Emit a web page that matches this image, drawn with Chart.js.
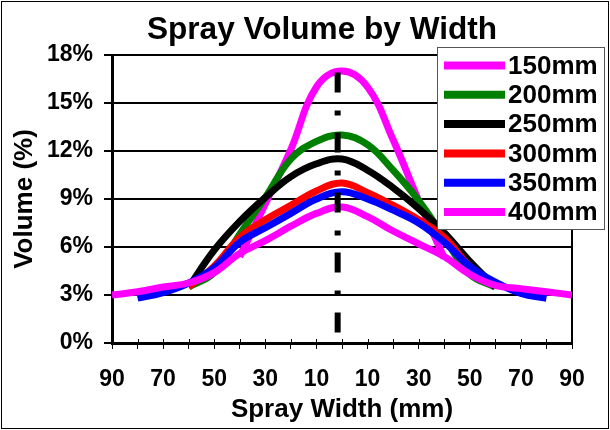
<!DOCTYPE html>
<html>
<head>
<meta charset="utf-8">
<title>Spray Volume by Width</title>
<script src="https://cdn.jsdelivr.net/npm/chart.js@4"></script>
<style>
  html, body { margin: 0; padding: 0; background: #fff; }
</style>
</head>
<body>
<canvas id="myChart" width="610" height="430"></canvas>
<script>
const FONT = '"Liberation Sans", Arial, sans-serif';

// spray width across the pattern, mm (left side negative)
const widths = [-90, -80, -70, -60, -50, -40, -30, -20, -10, 0, 10, 20, 30, 40, 50, 60, 70, 80, 90];
const widthLabels = ['90', '', '70', '', '50', '', '30', '', '10', '', '10', '', '30', '', '50', '', '70', '', '90'];

const seriesNames = ['150mm', '200mm', '250mm', '300mm', '350mm', '400mm'];

// volume in %, one value per width (null = nozzle doesn't reach)
const vol150 = [null, null, null, null, null, 5.4, 8.7, 12.1, 16.0, 17.0, 16.0, 12.7, 8.9, 5.3, null, null, null, null, null];
const vol200 = [null, null, null, 3.5, 4.4, 6.8, 9.1, 11.5, 12.6, 13.0, 12.4, 10.8, 8.9, 6.6, 4.3, 3.5, null, null, null];
const vol250 = [null, null, null, 3.5, 5.8, 7.6, 9.1, 10.4, 11.2, 11.5, 10.8, 9.7, 8.4, 6.9, 5.1, 3.5, null, null, null];
const vol300 = [null, null, null, 3.5, 4.8, 6.6, 7.7, 8.6, 9.5, 10.0, 9.4, 8.6, 7.7, 6.6, 4.8, 3.6, null, null, null];
const vol350 = [null, 2.8, 3.15, 3.75, 4.7, 6.3, 7.2, 8.1, 9.0, 9.45, 9.0, 8.3, 7.5, 6.3, 4.8, 3.8, 3.1, 2.8, null];
const vol400 = [3.0, 3.2, 3.5, 3.75, 4.4, 5.6, 6.4, 7.3, 8.1, 8.5, 7.9, 7.0, 6.2, 5.4, 4.3, 3.6, 3.4, 3.2, 3.0];

// dash-dot centre marker
const centreX = -1.7;
const centreY = [16.9, 0.5];

const volumes = [vol150, vol200, vol250, vol300, vol350, vol400];
const colors = ['#ff00ff', '#008000', '#000000', '#ff0000', '#0000ff', '#ff00ff'];

let datasets = volumes.map((vals, i) => ({
    label: seriesNames[i],
    data: vals.map((v, k) => ({ x: widths[k], y: v })),
    borderColor: colors[i],
    backgroundColor: colors[i],
    borderWidth: 7,
    pointRadius: 0,
    tension: 0.4,
    fill: false,
    order: volumes.length - i
}));

datasets.push({
    label: 'centre',
    data: centreY.map(y => ({ x: centreX, y: y })),
    borderColor: '#000',
    borderWidth: 6,
    borderDash: [20, 18, 5, 17],
    borderCapStyle: 'butt',
    pointRadius: 0,
    tension: 0,
    order: 0
});

// frame, title, right edge, inner x ticks and the boxed legend
const extras = {
    id: 'extras',
    beforeDraw(chart) {
        const ctx = chart.ctx;
        ctx.save();
        ctx.fillStyle = '#fff';
        ctx.fillRect(0, 0, chart.width, chart.height);
        ctx.strokeStyle = '#000';
        ctx.lineWidth = 1;
        ctx.strokeRect(1.5, 1.5, chart.width - 3, chart.height - 3);
        ctx.restore();
    },
    beforeDatasetsDraw(chart) {
        const ctx = chart.ctx;
        const a = chart.chartArea;
        const x = chart.scales.x;
        ctx.save();
        ctx.strokeStyle = '#000';
        ctx.lineWidth = 2;
        ctx.beginPath();
        ctx.moveTo(a.right, a.top);
        ctx.lineTo(a.right, a.bottom);
        ctx.stroke();
        ctx.lineWidth = 1;
        ctx.beginPath();
        x.ticks.forEach(t => {
            const px = Math.round(x.getPixelForValue(t.value)) + 0.5;
            ctx.moveTo(px, a.bottom - 4);
            ctx.lineTo(px, a.bottom);
        });
        ctx.stroke();
        ctx.restore();
    },
    afterDraw(chart) {
        const ctx = chart.ctx;
        ctx.save();
        ctx.fillStyle = '#000';
        ctx.font = 'bold 31.6px ' + FONT;
        ctx.textAlign = 'center';
        ctx.textBaseline = 'alphabetic';
        ctx.fillText('Spray Volume by Width', 322, 39);

        // legend box
        const bx = 437.5, by = 47.5, bw = 167, bh = 182;
        ctx.fillStyle = '#fff';
        ctx.fillRect(bx, by, bw, bh);
        ctx.strokeStyle = '#555';
        ctx.lineWidth = 1;
        ctx.strokeRect(bx, by, bw, bh);

        ctx.font = 'bold 26px ' + FONT;
        ctx.textAlign = 'left';
        ctx.textBaseline = 'middle';
        chart.data.datasets.slice(0, seriesNames.length).forEach((ds, i) => {
            const cy = 65.5 + i * 29.3;
            ctx.strokeStyle = ds.borderColor;
            ctx.lineWidth = 8;
            ctx.lineCap = 'butt';
            ctx.beginPath();
            ctx.moveTo(444, cy);
            ctx.lineTo(505, cy);
            ctx.stroke();
            ctx.fillStyle = '#000';
            ctx.fillText(ds.label, 508, cy + 1);
        });
        ctx.restore();
    }
};

const config = {
    type: 'line',
    data: { datasets: datasets },
    options: {
        responsive: false,
        animation: false,
        layout: { padding: { top: 55, right: 38, left: 0, bottom: 0 } },
        plugins: {
            legend: { display: false },
            title: { display: false },
            tooltip: { enabled: false }
        },
        scales: {
            x: {
                type: 'linear',
                min: -90,
                max: 90,
                ticks: {
                    stepSize: 10,
                    autoSkip: false,
                    maxRotation: 0,
                    padding: 17,
                    color: '#000',
                    font: { family: FONT, size: 23, weight: 'bold' },
                    callback: v => widthLabels[widths.indexOf(Math.round(v))]
                },
                grid: { drawOnChartArea: false, color: '#000', lineWidth: 1, tickLength: 6 },
                border: { color: '#000', width: 3 },
                title: {
                    display: true,
                    text: 'Spray Width (mm)',
                    color: '#000',
                    font: { family: FONT, size: 26, weight: 'bold' },
                    padding: { top: 0, bottom: 5 }
                },
                afterFit: s => { s.height = 87; }
            },
            y: {
                min: 0,
                max: 18,
                ticks: {
                    stepSize: 3,
                    padding: 11,
                    color: '#000',
                    font: { family: FONT, size: 23, weight: 'bold' },
                    callback: v => v + '%'
                },
                grid: { color: '#000', lineWidth: 2, tickLength: 8 },
                border: { color: '#000', width: 3 },
                title: {
                    display: true,
                    text: 'Volume (%)',
                    color: '#000',
                    font: { family: FONT, size: 26, weight: 'bold' },
                    padding: { top: 9, bottom: 0 }
                },
                afterFit: s => { s.width = 112; }
            }
        }
    },
    plugins: [extras]
};

let myChart = new Chart(document.getElementById('myChart'), config);
</script>
</body>
</html>
